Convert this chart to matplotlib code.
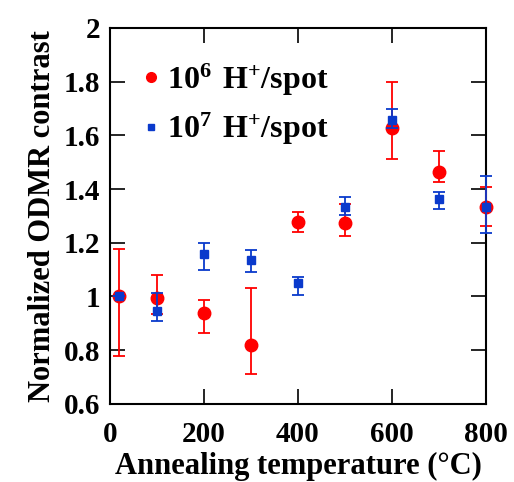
import matplotlib
matplotlib.use('Agg')
import matplotlib.pyplot as plt
from matplotlib.lines import Line2D
import numpy as np

plt.rcParams['font.family'] = ['Liberation Serif', 'DejaVu Serif']
plt.rcParams['font.weight'] = 'bold'
plt.rcParams['axes.labelweight'] = 'bold'
plt.rcParams['mathtext.fontset'] = 'custom'
plt.rcParams['mathtext.rm'] = 'Liberation Serif:bold'

# Annealing temperature (°C)
temp_1e6 = [20, 100, 200, 300, 400, 500, 600, 700, 800]
temp_1e7 = [20, 100, 200, 300, 400, 500, 600, 700, 800]

# 10^6 H+/spot
contrast_1e6 = [1.00, 0.995, 0.938, 0.82, 1.276, 1.275, 1.629, 1.465, 1.332]
upper_1e6 = [1.178, 1.08, 0.987, 1.031, 1.314, 1.345, 1.797, 1.543, 1.409]
lower_1e6 = [0.779, 0.934, 0.863, 0.712, 1.241, 1.225, 1.511, 1.425, 1.263]

# 10^7 H+/spot
contrast_1e7 = [1.00, 0.947, 1.158, 1.136, 1.05, 1.332, 1.657, 1.362, 1.332]
upper_1e7 = [1.00, 1.012, 1.198, 1.175, 1.074, 1.371, 1.70, 1.388, 1.45]
lower_1e7 = [1.00, 0.909, 1.099, 1.091, 1.006, 1.304, 1.629, 1.326, 1.236]

red = '#ff0000'
blue = '#0a3acc'

fig = plt.figure(figsize=(5.14, 4.82), dpi=100)
ax = fig.add_axes([0.214, 0.162, 0.7315, 0.780])

y6 = np.array(contrast_1e6)
err6 = [y6 - np.array(lower_1e6), np.array(upper_1e6) - y6]
y7 = np.array(contrast_1e7)
err7 = [y7 - np.array(lower_1e7), np.array(upper_1e7) - y7]

ax.errorbar(temp_1e6, y6, yerr=err6, fmt='o', color=red, ms=9, capsize=4,
            elinewidth=1.3, capthick=1.3, clip_on=False, zorder=3)
ax.errorbar(temp_1e7, y7, yerr=err7, fmt='s', color=blue, ms=6, capsize=4,
            elinewidth=1.3, capthick=1.3, clip_on=False, zorder=4)

ax.set_xlim(0, 800)
ax.set_ylim(0.6, 2.0)
ax.set_xticks([0, 200, 400, 600, 800])
ax.set_yticks([0.6, 0.8, 1.0, 1.2, 1.4, 1.6, 1.8, 2.0])
ax.set_yticklabels(['0.6', '0.8', '1', '1.2', '1.4', '1.6', '1.8', '2'])
ax.tick_params(direction='in', length=11, width=1.2, labelsize=21,
               top=True, right=True)
ax.tick_params(axis='x', pad=12)
ax.tick_params(axis='y', pad=7)
for s in ax.spines.values():
    s.set_linewidth(1.5)

ax.set_xlabel('Annealing temperature (°C)', fontsize=22, labelpad=3)
ax.set_ylabel('Normalized ODMR contrast', fontsize=22, labelpad=5)

handles = [
    Line2D([], [], ls='none', marker='o', color=red, ms=7),
    Line2D([], [], ls='none', marker='s', color=blue, ms=5),
]
labels = [r'$\mathregular{10^6\ H^{+}/spot}$', r'$\mathregular{10^7\ H^{+}/spot}$']
ax.legend(handles, labels, loc='upper left', fontsize=23, frameon=False,
          handletextpad=0.0, labelspacing=0.42, handlelength=1.0,
          borderaxespad=0.0, bbox_to_anchor=(0.032, 0.945))

fig.savefig('out.png', dpi=100)
